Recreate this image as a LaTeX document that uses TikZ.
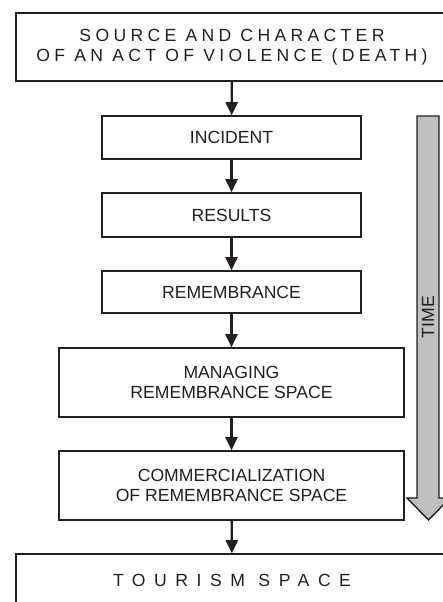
\documentclass[tikz,border=0pt]{standalone}
\usepackage{fontspec}
\setmainfont{Liberation Sans}
\newfontfamily\spacedfont[LetterSpace=24.5]{Liberation Sans}
\newfontfamily\widefont[LetterSpace=48.5]{Liberation Sans}
\usetikzlibrary{arrows.meta}
\definecolor{ink}{HTML}{231F20}
\definecolor{timegray}{HTML}{C0C0C0}
\tikzset{
  stage/.style={draw=ink, line width=1.6pt, text=ink, align=center, inner sep=0pt, minimum height=43pt, minimum width=259pt},
  bigstage/.style={stage, minimum width=345pt, minimum height=69pt},
  endbox/.style={stage, minimum width=432pt},
  flow/.style={draw=ink, line width=2.4pt, -{Triangle[length=13pt,width=12pt]}},
}
\begin{document}
\begin{tikzpicture}[x=1pt,y=-1pt,font=\fontsize{17.6}{20.5}\selectfont]
\useasboundingbox (0,0) rectangle (442,602);
\node[endbox, minimum height=68pt] (src) at (232,47) {{\spacedfont SOURCE AND CHARACTER}\\{\spacedfont OF AN ACT OF VIOLENCE (DEATH)}};
\node[stage] (inc) at (231.5,137.5) {INCIDENT};
\node[stage, minimum height=44pt] (res) at (231.5,215) {RESULTS};
\node[stage, minimum height=42pt] (rem) at (231.5,292) {REMEMBRANCE};
\node[bigstage] (man) at (231.5,382.5) {MANAGING\\REMEMBRANCE SPACE};
\node[bigstage] (com) at (231.5,485.5) {COMMERCIALIZATION\\OF REMEMBRANCE SPACE};
\node[endbox, minimum height=52pt] (tour) at (232,580) {\widefont TOURISM SPACE};
\draw[flow] (src) -- (inc);
\draw[flow] (inc) -- (res);
\draw[flow] (res) -- (rem);
\draw[flow] (rem) -- (man);
\draw[flow] (man) -- (com);
\draw[flow] (com) -- (tour);
\draw[draw=ink, line width=1.4pt, fill=timegray, line join=miter]
  (417,116) -- (439,116) -- (439,498) -- (450,498) -- (428.5,520) -- (407,498) -- (417,498) -- cycle;
\node[text=ink, rotate=90, inner sep=0pt] (time) at (428,317) {TIME};
\end{tikzpicture}
\end{document}
